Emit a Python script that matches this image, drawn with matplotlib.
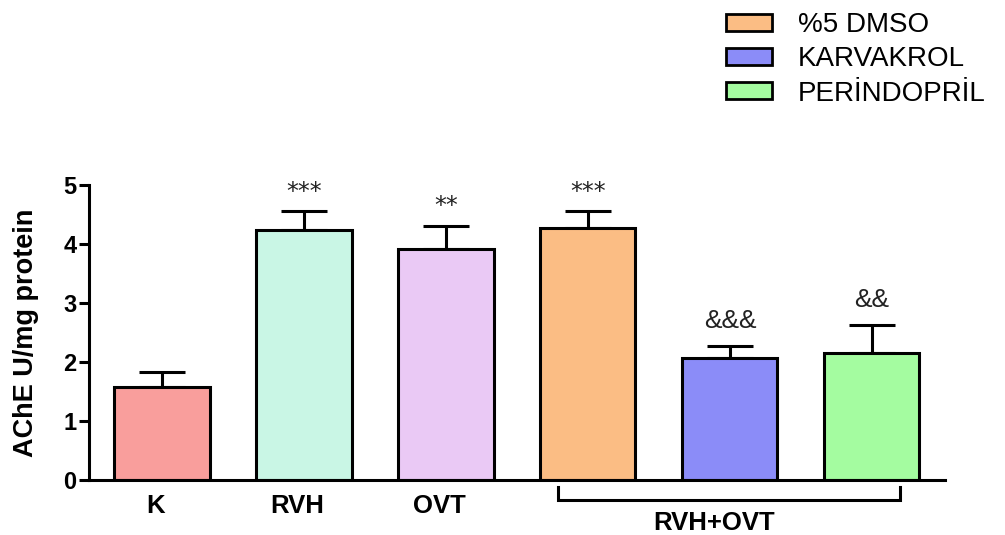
import matplotlib
matplotlib.use("Agg")
import matplotlib.pyplot as plt
from matplotlib.patches import Patch
from matplotlib.transforms import blended_transform_factory

# ---- data ----
groups = ["K", "RVH", "OVT", "%5 DMSO", "KARVAKROL", "PERİNDOPRİL"]
tick_labels = ["K", "RVH", "OVT", "", "", ""]
means = [1.58, 4.24, 3.92, 4.27, 2.07, 2.15]
sems = [0.25, 0.32, 0.39, 0.29, 0.20, 0.48]
marks = ["", "***", "**", "***", "&&&", "&&"]
colors = ["#F99E9C", "#C9F6E5", "#EAC9F5", "#FBBD84", "#8B8CF8", "#A4FCA0"]
legend_labels = ["%5 DMSO", "KARVAKROL", "PERİNDOPRİL"]
legend_colors = colors[3:]
group_label = "RVH+OVT"
ylabel = "AChE U/mg protein"
yticks = [0, 1, 2, 3, 4, 5]

plt.rcParams['font.family'] = ['Liberation Sans', 'DejaVu Sans']

W, H = 1005, 535
fig = plt.figure(figsize=(W / 100, H / 100), dpi=100)
ax_l, ax_r, ax_b, ax_t = 89, 945, 480, 185
ax = fig.add_axes([ax_l / W, (H - ax_b) / H, (ax_r - ax_l) / W, (ax_b - ax_t) / H])

x = list(range(len(groups)))
lw = 2.2
ax.bar(x, means, width=0.67, color=colors, edgecolor="black", linewidth=lw, zorder=2)
ax.errorbar(x, means, yerr=[[0] * len(x), sems], fmt="none", ecolor="black",
            elinewidth=lw, capsize=16.5, capthick=lw, zorder=1)

for xi, m, s, t in zip(x, means, sems, marks):
    if t:
        if "*" in t:
            ax.annotate(t, (xi, m + s), xytext=(0, 14), textcoords="offset points",
                        ha="center", va="center", fontsize=17, color="#222222",
                        family=["DejaVu Sans"])
        else:
            ax.annotate(t, (xi, m + s), xytext=(0, 18), textcoords="offset points",
                        ha="center", va="center", fontsize=19, color="#222222")

ax.set_xlim(-0.514, 5.515)
ax.set_ylim(0, 5)
ax.set_yticks(yticks)
ax.set_yticklabels([str(v) for v in yticks], fontsize=17, fontweight="bold")
ax.tick_params(axis="y", length=7, width=lw, pad=2, direction="out")
ax.set_xticks([])
for sp in ["top", "right"]:
    ax.spines[sp].set_visible(False)
for sp in ["left", "bottom"]:
    ax.spines[sp].set_linewidth(lw)

ax.set_ylabel(ylabel, fontsize=19.5, fontweight="bold")
ax.yaxis.set_label_coords(-0.058, 0.5)

trans = blended_transform_factory(ax.transData, ax.transAxes)
for xi, lab in zip(x, tick_labels):
    if lab:
        ax.text(xi - 0.045, -0.088, lab, transform=trans, ha="center", va="center",
                fontsize=18.5, fontweight="bold")

# bracket under combined groups
bx0, bx1 = 2.79, 5.20
ax.plot([bx0, bx0, bx1, bx1], [-0.024, -0.068, -0.068, -0.024], transform=trans,
        color="black", lw=lw, clip_on=False, solid_joinstyle="miter")
ax.text(3.89, -0.146, group_label, transform=trans, ha="center", va="center",
        fontsize=18.5, fontweight="bold")

handles = [Patch(facecolor=c, edgecolor="black", linewidth=2) for c in legend_colors]
fig.legend(handles, legend_labels, loc="upper left", bbox_to_anchor=(726 / W, 1 - 12 / H),
           frameon=False, fontsize=20, handlelength=1.65, handleheight=0.55,
           handletextpad=0.95, labelspacing=0.3, borderpad=0, borderaxespad=0)

fig.savefig("out.png", dpi=100)
